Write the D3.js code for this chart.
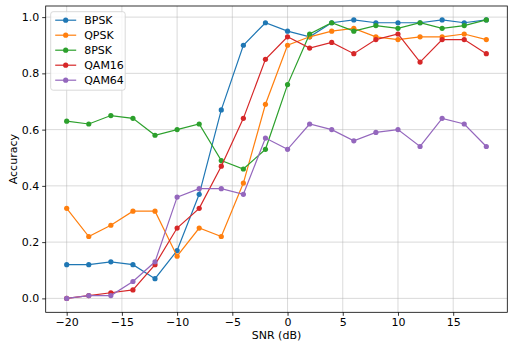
<!DOCTYPE html>
<html>
<head>
<meta charset="utf-8">
<script src="https://cdn.jsdelivr.net/npm/d3@7"></script>
<style>
  html, body { margin: 0; padding: 0; background: #fff; }
  svg { display: block; font-family: "DejaVu Sans", sans-serif; }
</style>
</head>
<body>
<svg id="chart" width="514" height="345"></svg>
<script>
// SNR sweep (dB) and classification accuracy per modulation
const snr = [-20, -18, -16, -14, -12, -10, -8, -6, -4, -2, 0, 2, 4, 6, 8, 10, 12, 14, 16, 18];
const seriesNames = ["BPSK", "QPSK", "8PSK", "QAM16", "QAM64"];
const bpsk  = [0.12, 0.12, 0.13, 0.12, 0.07, 0.17, 0.37, 0.67, 0.90, 0.98, 0.95, 0.93, 0.98, 0.99, 0.98, 0.98, 0.98, 0.99, 0.98, 0.99];
const qpsk  = [0.32, 0.22, 0.26, 0.31, 0.31, 0.15, 0.25, 0.22, 0.41, 0.69, 0.90, 0.93, 0.95, 0.96, 0.93, 0.92, 0.93, 0.93, 0.94, 0.92];
const psk8  = [0.63, 0.62, 0.65, 0.64, 0.58, 0.60, 0.62, 0.49, 0.46, 0.53, 0.76, 0.94, 0.98, 0.95, 0.97, 0.96, 0.98, 0.96, 0.97, 0.99];
const qam16 = [0.00, 0.01, 0.02, 0.03, 0.12, 0.25, 0.32, 0.47, 0.64, 0.85, 0.93, 0.89, 0.91, 0.87, 0.92, 0.94, 0.84, 0.92, 0.92, 0.87];
const qam64 = [0.00, 0.01, 0.01, 0.06, 0.13, 0.36, 0.39, 0.39, 0.37, 0.57, 0.53, 0.62, 0.60, 0.56, 0.59, 0.60, 0.54, 0.64, 0.62, 0.54];
const xTicks = [-20, -15, -10, -5, 0, 5, 10, 15];
const yTicks = [0.0, 0.2, 0.4, 0.6, 0.8, 1.0];
const colors = ["#1f77b4", "#ff7f0e", "#2ca02c", "#d62728", "#9467bd"];

const allSeries = [bpsk, qpsk, psk8, qam16, qam64];

const svg = d3.select("#chart");
const plot = { left: 45.7, right: 507.3, top: 6, bottom: 312.3 };

// matplotlib-style 5% margins around the data extent
const xMin = d3.min(snr), xMax = d3.max(snr);
const xPad = (xMax - xMin) * 0.05;
const yMin = d3.min(allSeries.flat()), yMax = d3.max(allSeries.flat());
const yPad = (yMax - yMin) * 0.05;

const x = d3.scaleLinear().domain([xMin - xPad, xMax + xPad]).range([plot.left, plot.right]);
const y = d3.scaleLinear().domain([yMin - yPad, yMax + yPad]).range([plot.bottom, plot.top]);

// grid
const grid = svg.append("g");
grid.selectAll("line.gx").data(xTicks).join("line")
  .attr("x1", d => x(d)).attr("x2", d => x(d))
  .attr("y1", plot.top).attr("y2", plot.bottom)
  .attr("stroke", "#b0b0b0").attr("stroke-opacity", 0.6).attr("stroke-width", 0.8);
grid.selectAll("line.gy").data(yTicks).join("line")
  .attr("y1", d => y(d)).attr("y2", d => y(d))
  .attr("x1", plot.left).attr("x2", plot.right)
  .attr("stroke", "#b0b0b0").attr("stroke-opacity", 0.6).attr("stroke-width", 0.8);

// axes
const xAxis = d3.axisBottom(x).tickValues(xTicks).tickSize(3.5).tickPadding(2)
  .tickFormat(d => (d < 0 ? "\u2212" + Math.abs(d) : String(d)));
const yAxis = d3.axisLeft(y).tickValues(yTicks).tickSize(3.5).tickPadding(3)
  .tickFormat(d3.format(".1f"));

const gx = svg.append("g").attr("transform", `translate(0,${plot.bottom})`).call(xAxis);
const gy = svg.append("g").attr("transform", `translate(${plot.left},0)`).call(yAxis);
[gx, gy].forEach(g => {
  g.select(".domain").remove();
  g.selectAll(".tick line").attr("stroke", "#000").attr("stroke-width", 0.8);
  g.selectAll(".tick text").attr("fill", "#000").style("font-size", "11px")
    .style("font-family", "'DejaVu Sans', sans-serif");
});

// series lines and markers
const line = d3.line().x((d, i) => x(snr[i])).y(d => y(d));
allSeries.forEach((vals, k) => {
  const g = svg.append("g");
  g.append("path").datum(vals).attr("d", line)
    .attr("fill", "none").attr("stroke", colors[k]).attr("stroke-width", 1.2);
  g.selectAll("circle").data(vals).join("circle")
    .attr("cx", (d, i) => x(snr[i])).attr("cy", d => y(d)).attr("r", 2.6)
    .attr("fill", colors[k]);
});

// frame
svg.append("rect")
  .attr("x", plot.left).attr("y", plot.top)
  .attr("width", plot.right - plot.left).attr("height", plot.bottom - plot.top)
  .attr("fill", "none").attr("stroke", "#000").attr("stroke-width", 0.8);

// axis titles
svg.append("text").attr("x", (plot.left + plot.right) / 2).attr("y", 339)
  .attr("text-anchor", "middle").style("font-size", "11px").attr("fill", "#000")
  .text("SNR (dB)");
svg.append("text").attr("transform", `translate(17,${(plot.top + plot.bottom) / 2}) rotate(-90)`)
  .attr("text-anchor", "middle").style("font-size", "11px").attr("fill", "#000")
  .text("Accuracy");

// legend
const lg = svg.append("g").attr("transform", "translate(50.7,11.7)");
lg.append("rect").attr("width", 74.5).attr("height", 78.5).attr("rx", 2.5)
  .attr("fill", "#fff").attr("fill-opacity", 0.8).attr("stroke", "#d0d0d0").attr("stroke-width", 0.8);
seriesNames.forEach((name, k) => {
  const cy = 8.5 + k * 15;
  lg.append("line").attr("x1", 4.5).attr("x2", 25.5).attr("y1", cy).attr("y2", cy)
    .attr("stroke", colors[k]).attr("stroke-width", 1.2);
  lg.append("circle").attr("cx", 15).attr("cy", cy).attr("r", 2.6).attr("fill", colors[k]);
  lg.append("text").attr("x", 33.5).attr("y", cy + 4).style("font-size", "11px")
    .attr("fill", "#000").text(name);
});
</script>
</body>
</html>
